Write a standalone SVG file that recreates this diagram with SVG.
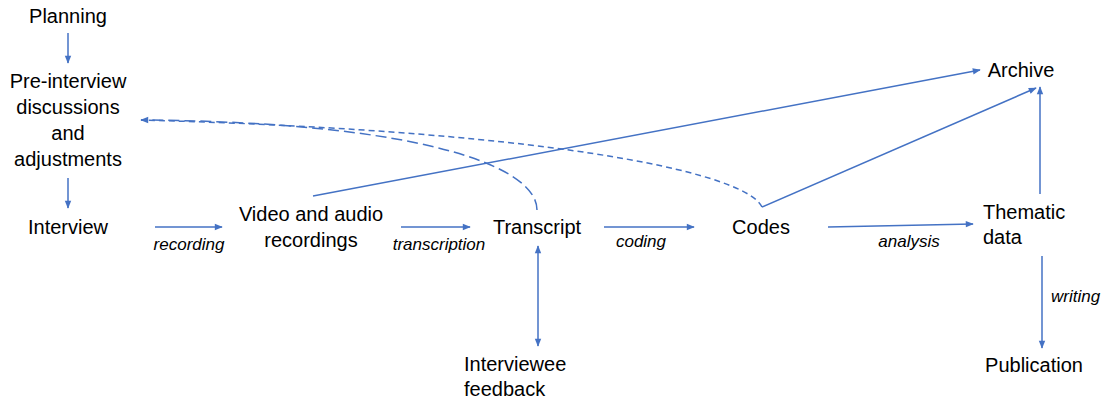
<svg xmlns="http://www.w3.org/2000/svg" width="1109" height="402" viewBox="0 0 1109 402">
  <style>
    .node { font-family: "Liberation Sans", Arial, sans-serif; font-size: 20px; fill: #000; }
    .mid { text-anchor: middle; }
    .lbl { font-family: "Liberation Sans", Arial, sans-serif; font-size: 17px; font-style: italic; fill: #000; }
    .edge { stroke: #4472C4; stroke-width: 1.5; fill: none; }
    .long { stroke-dasharray: 11 5; }
    .short { stroke-dasharray: 6 4; }
  </style>
  <defs>
    <marker id="arrowL" viewBox="0 0 10 10" refX="9" refY="5" markerWidth="9" markerHeight="8" orient="auto-start-reverse" markerUnits="userSpaceOnUse">
      <path d="M0,1 L10,5 L0,9 Z" fill="#4472C4"/>
    </marker>
  </defs>
  <rect width="1109" height="402" fill="#fff"/>

  <g id="connectors">
    <line class="edge" x1="68" y1="33" x2="68" y2="63" marker-end="url(#arrowL)"/>
    <line class="edge" x1="68" y1="178" x2="68" y2="208" marker-end="url(#arrowL)"/>
    <line class="edge" x1="155" y1="227" x2="222" y2="227" marker-end="url(#arrowL)"/>
    <line class="edge" x1="401" y1="227" x2="470" y2="227" marker-end="url(#arrowL)"/>
    <line class="edge" x1="604" y1="227" x2="694" y2="227" marker-end="url(#arrowL)"/>
    <line class="edge" x1="828" y1="227" x2="973" y2="224" marker-end="url(#arrowL)"/>
    <line class="edge" x1="313" y1="196" x2="980" y2="70" marker-end="url(#arrowL)"/>
    <line class="edge" x1="762" y1="207" x2="1036" y2="88" marker-end="url(#arrowL)"/>
    <line class="edge" x1="1040" y1="194" x2="1040" y2="87" marker-end="url(#arrowL)"/>
    <line class="edge" x1="1042" y1="256" x2="1042" y2="348" marker-end="url(#arrowL)"/>
    <line class="edge" x1="538" y1="246" x2="538" y2="346" marker-start="url(#arrowL)" marker-end="url(#arrowL)"/>
    <path class="edge long" d="M537,210 C537,166 420,122 141,120" marker-end="url(#arrowL)"/>
    <path class="edge short" d="M762,207 C748,176 580,132 141,120"/>
  </g>

  <g id="planning"><text class="node mid" x="68" y="23">Planning</text></g>
  <g id="pre-interview">
    <text class="node mid" x="68" y="88">Pre-interview</text>
    <text class="node mid" x="68" y="114">discussions</text>
    <text class="node mid" x="68" y="140">and</text>
    <text class="node mid" x="68" y="166">adjustments</text>
  </g>
  <g id="interview"><text class="node mid" x="68" y="234">Interview</text></g>
  <g id="recordings">
    <text class="node mid" x="311" y="221">Video and audio</text>
    <text class="node mid" x="311" y="247">recordings</text>
  </g>
  <g id="transcript"><text class="node mid" x="537" y="234">Transcript</text></g>
  <g id="codes"><text class="node mid" x="761" y="234">Codes</text></g>
  <g id="thematic">
    <text class="node" x="983" y="219">Thematic</text>
    <text class="node" x="983" y="244">data</text>
  </g>
  <g id="archive"><text class="node mid" x="1021" y="77">Archive</text></g>
  <g id="publication"><text class="node mid" x="1034" y="372">Publication</text></g>
  <g id="feedback">
    <text class="node" x="464" y="371">Interviewee</text>
    <text class="node" x="464" y="396">feedback</text>
  </g>

  <g id="labels">
    <text class="lbl mid" x="189" y="250">recording</text>
    <text class="lbl mid" x="439" y="250">transcription</text>
    <text class="lbl mid" x="641" y="247">coding</text>
    <text class="lbl mid" x="909" y="247">analysis</text>
    <text class="lbl" x="1051" y="302">writing</text>
  </g>
</svg>
